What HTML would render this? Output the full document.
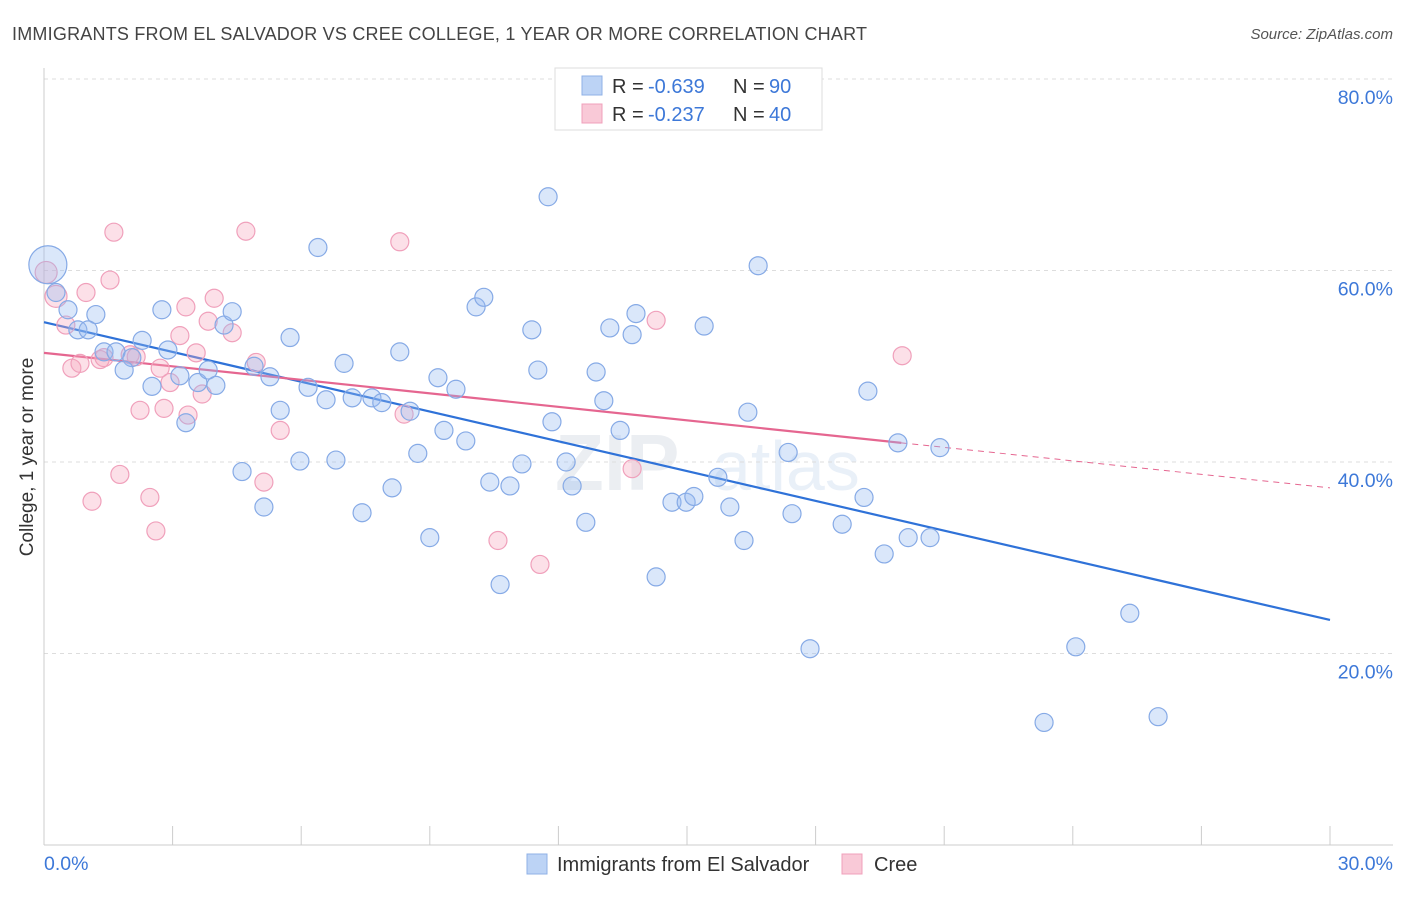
<!DOCTYPE html>
<html><head><meta charset="utf-8"><style>
body{margin:0;background:#fff;font-family:"Liberation Sans",sans-serif;}
svg text{font-family:"Liberation Sans",sans-serif;}
</style></head><body>
<svg id="chart" width="1406" height="892" xmlns="http://www.w3.org/2000/svg">
<text x="12" y="40" font-size="18" fill="#444" textLength="855">IMMIGRANTS FROM EL SALVADOR VS CREE COLLEGE, 1 YEAR OR MORE CORRELATION CHART</text>
<text x="1393" y="39" font-size="15" fill="#555" text-anchor="end" font-style="italic">Source: ZipAtlas.com</text>
<g opacity="0.13"><text x="555" y="490" font-size="80" font-family="Liberation Serif" fill="#6a7fa0" font-weight="bold">ZIP</text><text x="712" y="490" font-size="70" fill="#5f8fd0">atlas</text></g>
<g id="grid"></g><g id="axes"></g><g id="lines"></g><g id="pts"></g>
<text transform="translate(33,457) rotate(-90)" font-size="19" fill="#333" text-anchor="middle">College, 1 year or more</text>
<g>
<rect x="555" y="68" width="267" height="62" fill="#fff" stroke="#ddd"/>
<rect x="582" y="76" width="20" height="19" fill="#bcd3f5" stroke="#8fb0e6"/>
<rect x="582" y="104" width="20" height="19" fill="#f9c9d7" stroke="#f0a0bb"/>
<text x="612" y="93" font-size="20" fill="#333">R =</text><text x="648" y="93" font-size="20" fill="#3d78d8">-0.639</text>
<text x="733" y="93" font-size="20" fill="#333">N =</text><text x="769" y="93" font-size="20" fill="#3d78d8">90</text>
<text x="612" y="121" font-size="20" fill="#333">R =</text><text x="648" y="121" font-size="20" fill="#3d78d8">-0.237</text>
<text x="733" y="121" font-size="20" fill="#333">N =</text><text x="769" y="121" font-size="20" fill="#3d78d8">40</text>
</g>
<g>
<rect x="527" y="854" width="20" height="20" fill="#bcd3f5" stroke="#8fb0e6"/>
<text x="557" y="871" font-size="20" fill="#333">Immigrants from El Salvador</text>
<rect x="842" y="854" width="20" height="20" fill="#f9c9d7" stroke="#f0a0bb"/>
<text x="874" y="871" font-size="20" fill="#333">Cree</text>
</g>
</svg>
<script>
const yTicks=[20,40,60,80];
const xTickLabels=["0.0%","30.0%"];
const blueX=[0.09,0.28,0.56,1.21,0.79,1.03,1.40,1.68,2.05,1.87,2.29,2.52,2.75,2.89,3.17,3.31,3.59,3.83,4.01,4.20,4.39,4.62,4.90,5.13,5.27,5.51,5.74,5.97,6.16,6.39,6.58,6.81,7.00,7.19,7.42,7.65,7.88,8.12,8.30,8.54,8.72,9.00,9.19,9.33,9.61,9.84,10.08,10.26,10.40,10.64,10.87,11.15,11.38,11.52,11.76,11.85,12.18,12.32,12.64,12.88,13.06,13.20,13.44,13.72,13.81,14.28,14.65,14.98,15.16,15.40,15.72,16.00,16.33,16.42,16.66,17.36,17.45,17.87,18.62,19.13,19.22,19.60,19.92,20.16,20.67,20.90,23.33,24.07,25.33,25.99];
const blueY=[60.6,57.7,55.9,55.4,53.8,53.8,51.5,51.5,50.9,49.6,52.7,47.9,55.9,51.7,49.0,44.1,48.3,49.6,48.0,54.3,55.7,39.0,50.0,35.3,48.9,45.4,53.0,40.1,47.8,62.4,46.5,40.2,50.3,46.7,34.7,46.7,46.2,37.3,51.5,45.3,40.9,32.1,48.8,43.3,47.6,42.2,56.2,57.2,37.9,27.2,37.5,39.8,53.8,49.6,67.7,44.2,40.0,37.5,33.7,49.4,46.4,54.0,43.3,53.3,55.5,28.0,35.8,35.8,36.4,54.2,38.4,35.3,31.8,45.2,60.5,41.0,34.6,20.5,33.5,36.3,47.4,30.4,42.0,32.1,32.1,41.5,12.8,20.7,24.2,13.4];
const pinkX=[0.05,0.28,0.51,0.65,0.84,0.98,1.12,1.31,1.40,1.54,1.63,1.77,2.01,2.15,2.24,2.47,2.61,2.71,2.80,2.94,3.17,3.31,3.36,3.55,3.69,3.83,3.97,4.39,4.71,4.95,5.13,5.51,8.30,8.40,10.59,11.57,13.72,14.28,20.02];
const pinkY=[59.8,57.3,54.3,49.8,50.3,57.7,35.9,50.7,50.9,59.0,64.0,38.7,51.2,51.0,45.4,36.3,32.8,49.8,45.6,48.3,53.2,56.2,44.9,51.4,47.1,54.7,57.1,53.5,64.1,50.4,37.9,43.3,63.0,45.0,31.8,29.3,39.3,54.8,51.1];
const blueFit=[54.6,23.5];
const pinkFit=[51.4,37.3];
const pinkSolidEnd=20.0;
const NS="http://www.w3.org/2000/svg";
const sx=v=>44+v/30*1286, sy=v=>845-v/20*191.5;
function mk(t,a,p){const e=document.createElementNS(NS,t);for(const k in a)e.setAttribute(k,a[k]);p.appendChild(e);return e;}
const grid=document.getElementById('grid'),axes=document.getElementById('axes'),lines=document.getElementById('lines'),pts=document.getElementById('pts');
yTicks.forEach(t=>{
 const l=mk('line',{x1:44,x2:1393,y1:sy(t),y2:sy(t),stroke:'#ddd','stroke-dasharray':'4,4'},grid);
 
 
 const tx=mk('text',{x:1393,y:sy(t)+25,'font-size':19.5,fill:'#3d78d8','text-anchor':'end'},grid);
 tx.textContent=t.toFixed(1)+'%';
 
 
});
let ax=mk('line',{x1:44,x2:44,y1:68,y2:845,stroke:'#ccc'},axes);


ax=mk('line',{x1:44,x2:1393,y1:845,y2:845,stroke:'#ccc'},axes);


for(let i=0;i<=10;i++){const tk=mk('line',{x1:sx(i*3),x2:sx(i*3),y1:826,y2:845,stroke:'#ccc'},axes);
 
 }
[[0,'start',44],[30,'end',1393]].forEach((d,i)=>{const t=mk('text',{x:d[2],y:870,'font-size':19.5,fill:'#3d78d8','text-anchor':d[1]},axes);t.textContent=xTickLabels[i];
 
 });
function dot(x,y,r,f,s,n){const c=mk('circle',{cx:sx(x),cy:sy(y),r:r,fill:f,stroke:s,'stroke-width':1.2},pts);
 
 }
pinkX.forEach((x,i)=>dot(x,pinkY[i],i<2?11:9,'rgba(245,165,190,0.35)','#f0a0bb','cree-point'));
blueX.forEach((x,i)=>dot(x,blueY[i],i==0?19:9,'rgba(150,185,240,0.35)','#86aae6','el-salvador-point'));
let ln=mk('line',{x1:sx(0),y1:sy(blueFit[0]),x2:sx(30),y2:sy(blueFit[1]),stroke:'#2f72d8','stroke-width':2.2},lines);


const py=x=>pinkFit[0]+(pinkFit[1]-pinkFit[0])*x/30;
ln=mk('line',{x1:sx(0),y1:sy(py(0)),x2:sx(pinkSolidEnd),y2:sy(py(pinkSolidEnd)),stroke:'#e56690','stroke-width':2.2},lines);


ln=mk('line',{x1:sx(pinkSolidEnd),y1:sy(py(pinkSolidEnd)),x2:sx(30),y2:sy(py(30)),stroke:'#e56690','stroke-width':1,'stroke-dasharray':'6,5'},lines);


</script>
</body></html>
